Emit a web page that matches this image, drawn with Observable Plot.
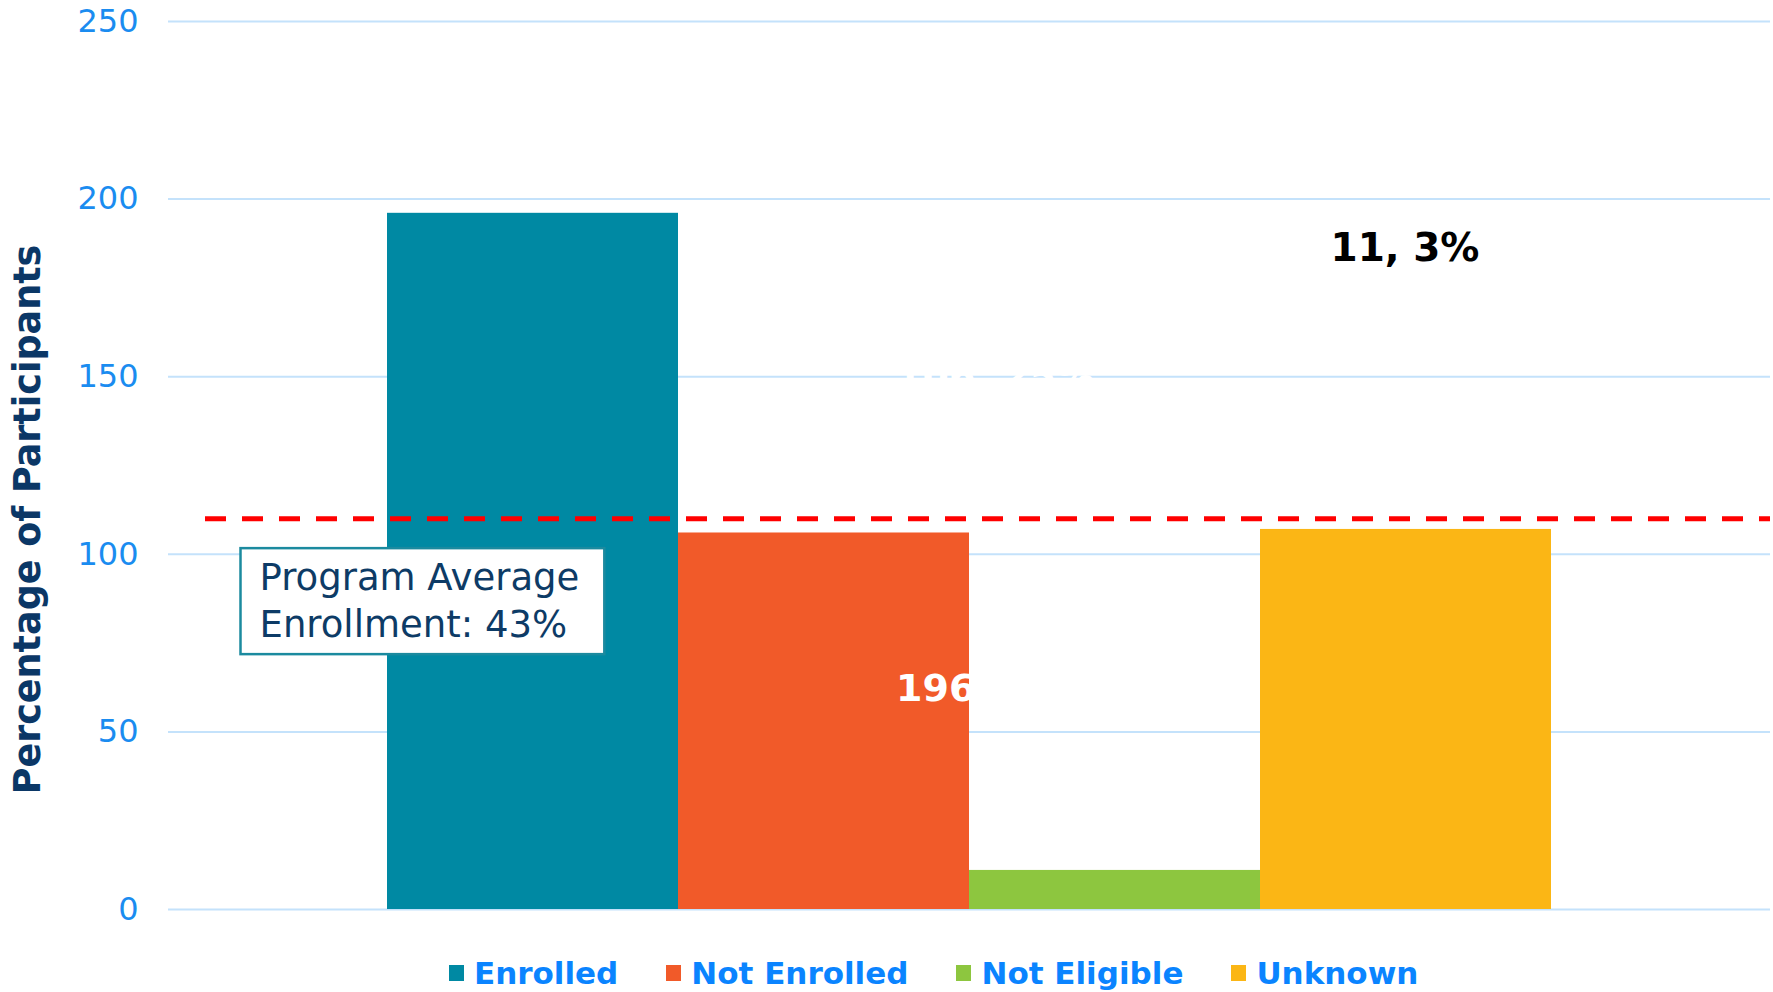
<!DOCTYPE html>
<html>
<head>
<meta charset="utf-8">
<script src="https://cdn.jsdelivr.net/npm/d3@7"></script>
<script src="https://cdn.jsdelivr.net/npm/@observablehq/plot@0.6"></script>
<style>
  html, body { margin: 0; padding: 0; background: #fff; overflow: hidden; }
  #chart { width: 1773px; }
  .legend { display: flex; align-items: center; height: 56px; padding-left: 449px; gap: 48px;
    font-family: "DejaVu Sans", Verdana, sans-serif; font-weight: bold; font-size: 31px; color: #0a84ff; }
  .legend .item { display: flex; align-items: center; }
  .legend .sw { width: 15px; height: 16px; margin-right: 10px; }
</style>
</head>
<body>
<div id="chart"></div>
<script>
const categories = ["Enrolled", "Not Enrolled", "Not Eligible", "Unknown"];
const values = [196, 106, 11, 107];
const colors = ["#0089a3", "#f15a29", "#8dc63f", "#fbb615"];
const yTicks = [0, 50, 100, 150, 200, 250];
const average = 110;
const averageLabel = ["Program Average", "Enrollment: 43%"];
const yTitle = "Percentage of Participants";
// data labels (as they appear in the source, including the near-invisible white ones)
const whiteLabelTexts = ["196, 47%", "106, 25%"];
const whiteLabelCategories = ["Not Eligible", "Not Eligible"];
const whiteLabelValues = [62, 150];
const blackLabelTexts = ["11, 3%"];
const blackLabelCategories = ["Unknown"];
const blackLabelValues = [186];

const data = categories.map((c, i) => ({category: c, value: values[i]}));
const whiteLabels = whiteLabelTexts.map((t, i) => ({text: t, category: whiteLabelCategories[i], value: whiteLabelValues[i]}));
const blackLabels = blackLabelTexts.map((t, i) => ({text: t, category: blackLabelCategories[i], value: blackLabelValues[i]}));

const chart = Plot.plot({
  width: 1773,
  height: 945,
  marginTop: 21,
  marginBottom: 36,
  marginLeft: 168,
  marginRight: 3,
  style: {fontFamily: "DejaVu Sans, Verdana, sans-serif", fontSize: "32px", color: "#1a8cf0", background: "white", overflow: "visible"},
  x: {domain: categories, paddingInner: 0, paddingOuter: 0.75, axis: null},
  y: {domain: [0, 250], ticks: yTicks, tickSize: 0, tickPadding: 30, label: null, tickFormat: "d"},
  color: {domain: categories, range: colors},
  marks: [
    Plot.ruleY(yTicks, {stroke: "#c4e2fb", strokeWidth: 2}),
    Plot.barY(data, {x: "category", y: "value", fill: "category"}),
    Plot.ruleY([average], {stroke: "#ff0000", strokeWidth: 5, strokeDasharray: "21,16", insetLeft: 37}),
    Plot.text([averageLabel.join("\n")], {frameAnchor: "left", y: () => average, dx: 91, dy: 38, lineAnchor: "top",
      textAnchor: "start", lineHeight: 1.27, fill: "#0d3b66", fontSize: 37}),
    Plot.text(whiteLabels, {x: "category", y: "value", text: "text", dx: -120, fill: "white", fontWeight: "bold", fontSize: 38}),
    Plot.text(blackLabels, {x: "category", y: "value", text: "text", dx: -1, fill: "black", fontWeight: "bold", fontSize: 39}),
    Plot.text([yTitle], {frameAnchor: "left", rotate: -90, textAnchor: "middle", dx: -140, dy: 54, fill: "#0b3766", fontWeight: "bold", fontSize: 36.5})
  ]
});
document.getElementById("chart").appendChild(chart);

// Box behind the annotation text
d3.select(chart).selectAll("text").each(function() {
  if (this.textContent.startsWith("Program")) {
    const bb = this.getBBox();
    const rect = document.createElementNS("http://www.w3.org/2000/svg", "rect");
    rect.setAttribute("x", bb.x - 19);
    rect.setAttribute("y", bb.y - 8);
    rect.setAttribute("width", bb.width + 44);
    rect.setAttribute("height", bb.height + 16);
    rect.setAttribute("fill", "white");
    rect.setAttribute("stroke", "#1b8a9f");
    rect.setAttribute("stroke-width", 2.5);
    const tr = this.getAttribute("transform");
    if (tr) rect.setAttribute("transform", tr);
    this.parentNode.insertBefore(rect, this);
  }
});

// Legend
const legend = document.createElement("div");
legend.className = "legend";
categories.forEach((c, i) => {
  const item = document.createElement("div");
  item.className = "item";
  const sw = document.createElement("span");
  sw.className = "sw";
  sw.style.background = colors[i];
  const lab = document.createElement("span");
  lab.textContent = c;
  item.appendChild(sw);
  item.appendChild(lab);
  legend.appendChild(item);
});
document.getElementById("chart").appendChild(legend);
</script>
</body>
</html>
